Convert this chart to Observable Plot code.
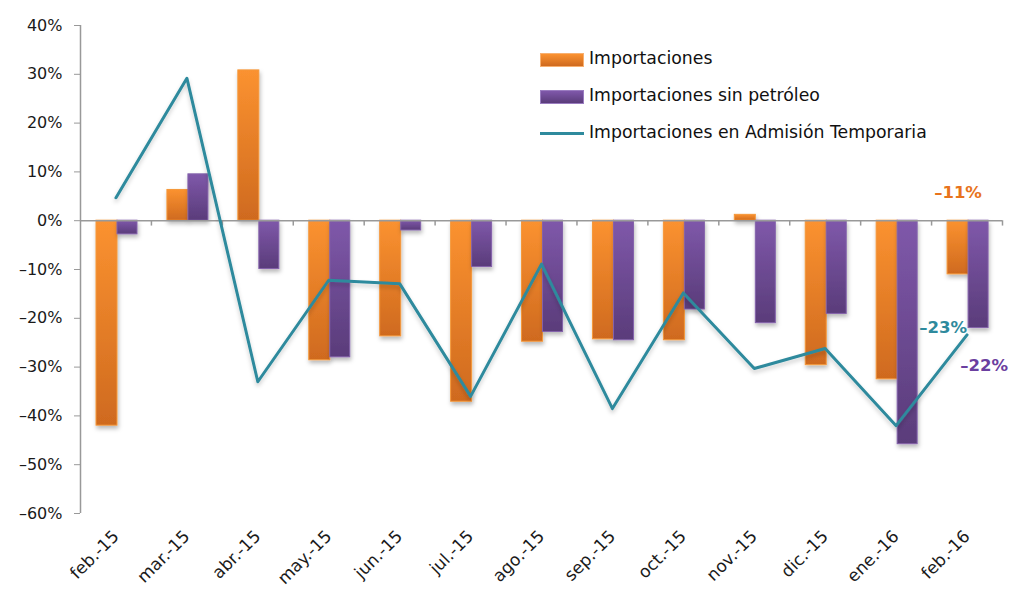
<!DOCTYPE html>
<html>
<head>
<meta charset="utf-8">
<script src="https://cdn.jsdelivr.net/npm/d3@7"></script>
<script src="https://cdn.jsdelivr.net/npm/@observablehq/plot@0.6"></script>
<style>
  html, body { margin: 0; padding: 0; background: #fff; }
  #wrap { position: relative; width: 1014px; height: 590px; font-family: "DejaVu Sans", sans-serif; }
  #legend { position: absolute; left: 540px; top: 48px; font-size: 17.3px; color: #111; }
  .row { position: relative; height: 37px; }
  .sw { position: absolute; left: 0; width: 44px; }
  .lbl { position: absolute; left: 49px; top: 0; white-space: nowrap; line-height: 20px; }
</style>
</head>
<body>
<div id="wrap"></div>
<script>
const months = ["feb.-15","mar.-15","abr.-15","may.-15","jun.-15","jul.-15","ago.-15","sep.-15","oct.-15","nov.-15","dic.-15","ene.-16","feb.-16"];
const importaciones = [-42, 6.3, 30.8, -28.6, -23.7, -37.1, -24.8, -24.3, -24.5, 1.2, -29.6, -32.5, -11];
const sinPetroleo = [-2.8, 9.5, -9.9, -28, -2, -9.5, -22.8, -24.5, -18.2, -21, -19.1, -45.8, -22];
const admTemporal = [4.7, 29.2, -33, -12.2, -12.9, -36, -8.9, -38.5, -14.8, -30.3, -26.2, -42, -23.4];
const yTicks = [-60, -50, -40, -30, -20, -10, 0, 10, 20, 30, 40];
const seriesNames = ["Importaciones", "Importaciones sin petróleo", "Importaciones en Admisión Temporaria"];

const W = 1014, H = 590, mL = 80, mR = 12, mT = 25, mB = 77;
const bw = (W - mL - mR) / months.length;

const rows = months.map((m, i) => ({m, imp: importaciones[i], sp: sinPetroleo[i], at: admTemporal[i]}));
const last = rows[rows.length - 1];
const fmt = d => (d < 0 ? "\u2013" : "") + Math.abs(Math.round(d)) + "%";

const font = '"DejaVu Sans", sans-serif';

const plot = Plot.plot({
  width: W, height: H,
  marginLeft: mL, marginRight: mR, marginTop: mT, marginBottom: mB,
  style: {fontFamily: font, fontSize: "16px", color: "#1a1a1a", background: "#fff"},
  x: {type: "band", domain: months, padding: 0, round: false},
  y: {domain: [-60, 40]},
  marks: [
    Plot.axisY({ticks: yTicks, tickFormat: fmt, tickSize: 6, tickPadding: 12, stroke: "#999", label: null, fontSize: 16}),
    Plot.axisX({anchor: "bottom", tickSize: 0, tickRotate: -45, tickPadding: 20, label: null, fontSize: 17}),
    Plot.ruleX([months[0]], {x: d => d, y1: -60, y2: 40, dx: -bw / 2, stroke: "#999", strokeWidth: 1.5}),
    Plot.barY(rows, {x: "m", y: "imp", fill: "url(#gOrange)", stroke: "#f5983a", strokeWidth: 1,
      insetLeft: 16, insetRight: bw - 37}),
    Plot.barY(rows, {x: "m", y: "sp", fill: "url(#gPurple)", stroke: "#8462ab", strokeWidth: 1,
      insetLeft: 37, insetRight: bw - 57}),
    Plot.ruleY([0], {stroke: "#999", strokeWidth: 1.5}),
    Plot.ruleX(months, {x: d => d, y1: 0, y2: -1.1, dx: bw / 2, stroke: "#999", strokeWidth: 1.5}),
    Plot.lineY(rows, {x: "m", y: "at", stroke: "#2e8a9d", strokeWidth: 3}),
    Plot.text([last], {x: "m", y: 0, text: d => fmt(d.imp), fill: "#e8731c", fontWeight: "bold", fontSize: 16.5, dx: -9, dy: -28}),
    Plot.text([last], {x: "m", y: "at", text: d => fmt(d.at), fill: "#2e8a9d", fontWeight: "bold", fontSize: 16.5, textAnchor: "end", dx: 0, dy: -7}),
    Plot.text([last], {x: "m", y: "sp", text: d => fmt(d.sp), fill: "#6b3fa0", fontWeight: "bold", fontSize: 16.5, textAnchor: "end", dx: 41, dy: 38})
  ]
});

const svg = d3.select(plot);
svg.insert("defs", ":first-child").html(`
  <linearGradient id="gOrange" x1="0" y1="0" x2="0" y2="1">
    <stop offset="0" stop-color="#fb9230"/>
    <stop offset="1" stop-color="#cf6a1f"/>
  </linearGradient>
  <linearGradient id="gPurple" x1="0" y1="0" x2="0" y2="1">
    <stop offset="0" stop-color="#7f58aa"/>
    <stop offset="1" stop-color="#5a3c7a"/>
  </linearGradient>
  <filter id="shadow" x="-30%" y="-10%" width="160%" height="130%">
    <feDropShadow dx="1" dy="3" stdDeviation="2" flood-color="#000" flood-opacity="0.28"/>
  </filter>
  <filter id="lshadow" x="-10%" y="-10%" width="120%" height="130%">
    <feDropShadow dx="0" dy="3" stdDeviation="2" flood-color="#000" flood-opacity="0.2"/>
  </filter>`);
svg.selectAll("g[aria-label='bar']").attr("filter", "url(#shadow)");
svg.selectAll("g[aria-label='line']").attr("filter", "url(#lshadow)");

const wrap = document.getElementById("wrap");
wrap.appendChild(plot);

const legend = document.createElement("div");
legend.id = "legend";
const swatches = [
  {top: 5, h: 14, bg: "linear-gradient(#fb9230,#cf6a1f)", border: "1px solid #f8b070"},
  {top: 5, h: 14, bg: "linear-gradient(#7f58aa,#5a3c7a)", border: "1px solid #9a7cc0"},
  {top: 10, h: 3, bg: "#2e8a9d", border: "none"}
];
seriesNames.forEach((name, i) => {
  const row = document.createElement("div");
  row.className = "row";
  const sw = document.createElement("div");
  sw.className = "sw";
  sw.style.top = swatches[i].top + "px";
  sw.style.height = swatches[i].h + "px";
  sw.style.background = swatches[i].bg;
  sw.style.border = swatches[i].border;
  sw.style.boxSizing = "border-box";
  const lbl = document.createElement("div");
  lbl.className = "lbl";
  lbl.textContent = name;
  row.appendChild(sw); row.appendChild(lbl);
  legend.appendChild(row);
});
wrap.appendChild(legend);
</script>
</body>
</html>
